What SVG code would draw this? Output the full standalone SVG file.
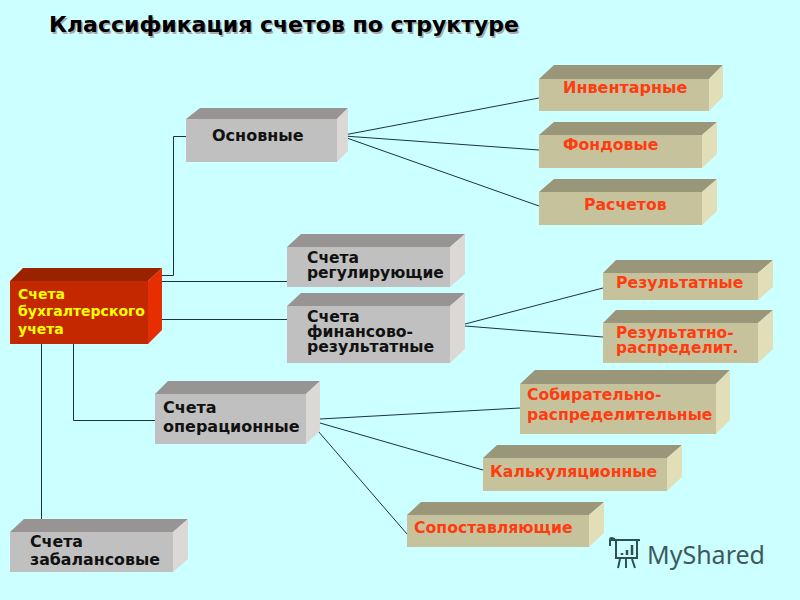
<svg xmlns="http://www.w3.org/2000/svg" width="800" height="600" viewBox="0 0 800 600">
<style>
text{font-family:"DejaVu Sans","Liberation Sans",sans-serif;font-weight:700}
.g text{font-size:16px;fill:#111}
.t text{font-size:15.7px;fill:#ff3c10}
.gf{fill:#c0c0c0}.gt{fill:#999494}.gs{fill:#dcd8d6}
.tf{fill:#c6c29c}.tt{fill:#99967a}.ts{fill:#e2deb8}
.c line,.c polyline{stroke:#1e3048;stroke-width:1;fill:none}
</style>
<rect width="800" height="600" fill="#ccffff"/>
<text x="49" y="32" font-size="22" fill="#aaa" transform="translate(1.5,1.5)">Классификация счетов по структуре</text>
<text x="49" y="32" font-size="22" fill="#000">Классификация счетов по структуре</text>
<g class="c" id="connectors">
<polyline points="162,275.5 173.5,275.5 173.5,136.5 186,136.5"/>
<line x1="162" y1="281.5" x2="287" y2="281.5"/>
<line x1="162" y1="319.5" x2="287" y2="319.5"/>
<polyline points="73.5,344 73.5,420.5 155,420.5"/>
<line x1="41.5" y1="344" x2="41.5" y2="520"/>
<line x1="344" y1="135" x2="539" y2="98"/>
<line x1="344" y1="136" x2="539" y2="150"/>
<line x1="344" y1="137" x2="539" y2="206"/>
<line x1="465" y1="324" x2="603" y2="288"/>
<line x1="465" y1="326" x2="603" y2="337"/>
<line x1="320" y1="419" x2="520" y2="408"/>
<line x1="320" y1="423" x2="483" y2="470"/>
<line x1="318" y1="431" x2="407" y2="534"/>
</g>
<g id="n-root">
<polygon points="10,281 23,268 162,268 148,281" fill="#992200"/>
<polygon points="148,281 162,268 162,330 148,344" fill="#e62e00"/>
<rect x="10" y="281" width="138" height="63" fill="#c42800"/>
<text font-size="14" fill="#ffff00"><tspan x="18" y="299">Счета</tspan><tspan x="18" y="316">бухгалтерского</tspan><tspan x="18" y="334">учета</tspan></text>
</g>
<g id="n-osn" class="g">
<polygon class="gt" points="186,119 200,108 348,108 337,119"/><polygon class="gs" points="337,119 348,108 348,151 337,162"/><rect class="gf" x="186" y="119" width="151" height="43"/>
<text x="212" y="141">Основные</text>
</g>
<g id="n-reg" class="g">
<polygon class="gt" points="287,247 301,234 465,234 450,247"/><polygon class="gs" points="450,247 465,234 465,274 450,287"/><rect class="gf" x="287" y="247" width="163" height="40"/>
<text style="font-size:15.5px"><tspan x="307" y="263">Счета</tspan><tspan x="307" y="278">регулирующие</tspan></text>
</g>
<g id="n-fin" class="g">
<polygon class="gt" points="287,306 301,293 465,293 450,306"/><polygon class="gs" points="450,306 465,293 465,349 450,363"/><rect class="gf" x="287" y="306" width="163" height="57"/>
<text style="font-size:15.7px"><tspan x="307" y="322">Счета</tspan><tspan x="307" y="337">финансово-</tspan><tspan x="307" y="352">результатные</tspan></text>
</g>
<g id="n-oper" class="g">
<polygon class="gt" points="155,394 168,381 320,381 306,394"/><polygon class="gs" points="306,394 320,381 320,431 306,444"/><rect class="gf" x="155" y="394" width="151" height="50"/>
<text><tspan x="163" y="413">Счета</tspan><tspan x="163" y="432">операционные</tspan></text>
</g>
<g id="n-zab" class="g">
<polygon class="gt" points="10,532 24,519 188,519 173,532"/><polygon class="gs" points="173,532 188,519 188,559 173,572"/><rect class="gf" x="10" y="532" width="163" height="40"/>
<text style="font-size:15.8px"><tspan x="30" y="547">Счета</tspan><tspan x="30" y="565">забалансовые</tspan></text>
</g>
<g id="n-inv" class="t">
<polygon class="tt" points="539,79 554,65 723,65 709,79"/><polygon class="ts" points="709,79 723,65 723,97 709,111"/><rect class="tf" x="539" y="79" width="170" height="32"/>
<text x="563" y="93" style="font-size:16px">Инвентарные</text>
</g>
<g id="n-fond" class="t">
<polygon class="tt" points="539,135 554,122 717,122 702,135"/><polygon class="ts" points="702,135 717,122 717,154 702,168"/><rect class="tf" x="539" y="135" width="163" height="33"/>
<text x="563" y="150">Фондовые</text>
</g>
<g id="n-ras" class="t">
<polygon class="tt" points="539,192 554,179 717,179 702,192"/><polygon class="ts" points="702,192 717,179 717,211 702,225"/><rect class="tf" x="539" y="192" width="163" height="33"/>
<text x="584" y="210">Расчетов</text>
</g>
<g id="n-rez" class="t">
<polygon class="tt" points="603,273 616,260 773,260 758,273"/><polygon class="ts" points="758,273 773,260 773,287 758,300"/><rect class="tf" x="603" y="273" width="155" height="27"/>
<text x="616" y="288">Результатные</text>
</g>
<g id="n-rezr" class="t">
<polygon class="tt" points="603,323 616,310 773,310 758,323"/><polygon class="ts" points="758,323 773,310 773,349 758,363"/><rect class="tf" x="603" y="323" width="155" height="40"/>
<text style="font-size:15.4px"><tspan x="616" y="338">Результатно-</tspan><tspan x="616" y="353">распределит.</tspan></text>
</g>
<g id="n-sob" class="t">
<polygon class="tt" points="520,384 535,370 730,370 716,384"/><polygon class="ts" points="716,384 730,370 730,420 716,434"/><rect class="tf" x="520" y="384" width="196" height="50"/>
<text style="font-size:15.6px"><tspan x="527" y="400">Собирательно-</tspan><tspan x="527" y="420">распределительные</tspan></text>
</g>
<g id="n-kal" class="t">
<polygon class="tt" points="483,458 497,445 682,445 667,458"/><polygon class="ts" points="667,458 682,445 682,477 667,491"/><rect class="tf" x="483" y="458" width="184" height="33"/>
<text x="490" y="477">Калькуляционные</text>
</g>
<g id="n-sop" class="t">
<polygon class="tt" points="407,515 421,502 604,502 589,515"/><polygon class="ts" points="589,515 604,502 604,533 589,547"/><rect class="tf" x="407" y="515" width="182" height="32"/>
<text x="414" y="533">Сопоставляющие</text>
</g>
<g fill="none" stroke="#2f5050" stroke-width="2">
<path d="M611,540H640M616,540V558H637V540M610,546V540C610,537 612,538 615,539"/>
<path d="M620,559L618,568M626,559V568M632,559L635,568"/>
<path d="M622,555V553M627,555V550M632,555V545" stroke-width="2.5"/>
</g>
<text x="647" y="564" font-size="25" fill="#3f5a5c" style="font-family:'Noto Sans','DejaVu Sans',sans-serif;font-weight:400">MyShared</text>
</svg>
